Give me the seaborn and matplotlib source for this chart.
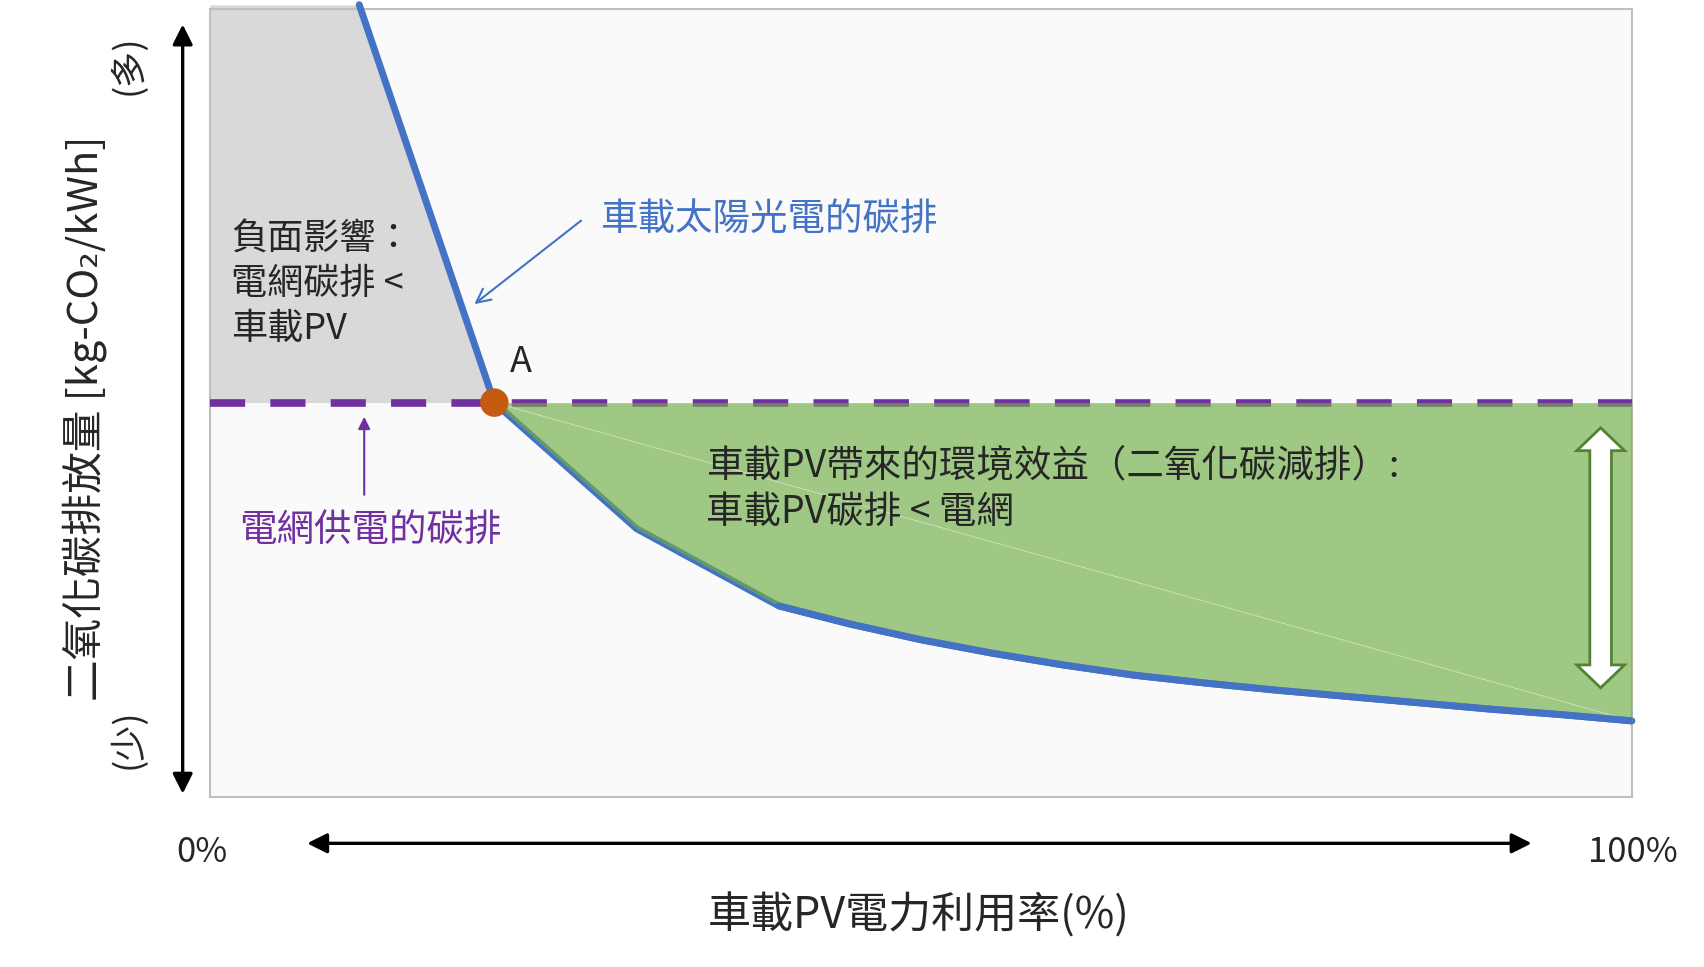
import numpy as np
import pandas as pd
import matplotlib.pyplot as plt
from matplotlib.patches import Polygon, FancyArrowPatch
import seaborn as sns

# PV utilisation (%) vs. CO2 emission of on-board PV (arbitrary units)
pv_util = [10.5, 20, 30, 40, 45, 50, 55, 60, 65, 70, 75, 80, 85, 90, 95, 100]
pv_co2 = [10.05, 5.0, 3.4, 2.42, 2.19, 1.99, 1.82, 1.67, 1.54, 1.44, 1.35, 1.27, 1.19, 1.11, 1.04, 0.96]
grid_co2 = 5.0
point_a = (20, 5.0)

x_labels = ["0%", "100%"]
x_title = "車載PV電力利用率(%)"
y_title = "二氧化碳排放量 [kg-CO\u2082/kWh]"

df = pd.DataFrame({"util": pv_util, "co2": pv_co2})

sns.set_style("white")
plt.rcParams["font.family"] = ["Noto Sans CJK TC", "DejaVu Sans"]

fig = plt.figure(figsize=(17.04, 9.67), dpi=100)
ax = fig.add_axes([0.1232, 0.1763, 0.8345, 0.8147])
ax.set_facecolor("#fafafa")
ax.set_xlim(0, 100)
ax.set_ylim(0, 10)
ax.set_xticks([])
ax.set_yticks([])
for s in ax.spines.values():
    s.set_color("#bfbfbf")
    s.set_linewidth(1.5)

# negative zone (grey)
gx = np.array([0, pv_util[0], point_a[0]])
gtop = np.interp(gx, pv_util, pv_co2)
gtop[0] = pv_co2[0]
ax.fill_between(gx, grid_co2, gtop, color="#d9d9d9", lw=0, zorder=1, clip_on=False)

# blue PV line
sns.lineplot(data=df, x="util", y="co2", ax=ax, color="#4472c4", lw=5,
             zorder=3, clip_on=False, legend=False)

# grid line (dashed purple)
ax.axhline(grid_co2, color="#7030a0", lw=5.5, dashes=(4.6, 3.3), zorder=4)

# benefit zone (green)
sub = df[df["util"] >= point_a[0]]
ax.fill_between(sub["util"], grid_co2, sub["co2"], color="#70ad47", alpha=0.65,
                lw=0, zorder=5)
ax.plot([sub["util"].iloc[0], sub["util"].iloc[-1]],
        [sub["co2"].iloc[0], sub["co2"].iloc[-1]],
        color="white", lw=0.6, alpha=0.5, zorder=5)
# flatter part of the curve is drawn over the fill
tail = df[df["util"] >= 40]
sns.lineplot(data=tail, x="util", y="co2", ax=ax, color="#4472c4", lw=5,
             zorder=5.5, legend=False)

# point A
sns.scatterplot(x=[point_a[0]], y=[point_a[1]], ax=ax, s=420, color="#c55a11",
                edgecolor="none", zorder=7, clip_on=False, legend=False)
ax.text(21.9, 5.52, "A", fontsize=26, ha="center", va="center", zorder=8)

# double arrow in green zone
def double_arrow(ax, x, y0, y1, body=0.76, head=1.68, hl=0.29):
    verts = [(x, y1), (x + head, y1 - hl), (x + body, y1 - hl), (x + body, y0 + hl),
             (x + head, y0 + hl), (x, y0), (x - head, y0 + hl), (x - body, y0 + hl),
             (x - body, y1 - hl), (x - head, y1 - hl)]
    ax.add_patch(Polygon(verts, closed=True, fc="white", ec="#548235", lw=2, zorder=6))

double_arrow(ax, 97.8, 1.38, 4.68)

# annotations
ax.text(1.5, 6.5, "負面影響：\n電網碳排 <\n車載PV", fontsize=26, ha="left",
        va="center", linespacing=1.3, zorder=8)

ax.text(27.4, 7.32, "車載太陽光電的碳排", fontsize=27, color="#4472c4",
        ha="left", va="center", zorder=8)
ax.annotate("", xy=(18.6, 6.25), xytext=(26.1, 7.31), zorder=8,
            arrowprops=dict(arrowstyle="->", color="#4472c4", lw=1.5,
                            mutation_scale=25, shrinkA=0, shrinkB=0))

ax.text(11.3, 3.38, "電網供電的碳排", fontsize=27, color="#7030a0",
        ha="center", va="center", zorder=8)
ax.annotate("", xy=(10.85, 4.82), xytext=(10.85, 3.83), zorder=8,
            arrowprops=dict(arrowstyle="-|>", color="#7030a0", lw=1.5,
                            mutation_scale=18, shrinkA=0, shrinkB=0))

ax.text(34.9, 3.9, "車載PV帶來的環境效益（二氧化碳減排）:\n車載PV碳排 < 電網",
        fontsize=27, ha="left", va="center", linespacing=1.25, zorder=8)

# outer axis arrows
fig.add_artist(FancyArrowPatch(
    (0.1072, 0.1763), (0.1072, 0.9776), transform=fig.transFigure,
    arrowstyle="<|-|>", mutation_scale=30, lw=2.4, color="black"))
fig.add_artist(FancyArrowPatch(
    (0.1786, 0.1279), (0.9005, 0.1279), transform=fig.transFigure,
    arrowstyle="<|-|>", mutation_scale=30, lw=2.4, color="black"))

fig.text(0.1187, 0.1189, x_labels[0], fontsize=25, ha="center", va="center")
fig.text(0.958, 0.1189, x_labels[1], fontsize=25, ha="center", va="center")
fig.text(0.539, 0.0527, x_title, fontsize=31, ha="center", va="center")
fig.text(0.0497, 0.5673, y_title, fontsize=30, ha="center", va="center", rotation=90)
fig.text(0.0752, 0.9326, "(多)", fontsize=26, ha="center", va="center", rotation=90)
fig.text(0.0752, 0.2358, "(少)", fontsize=26, ha="center", va="center", rotation=90)

fig.savefig("out.png", dpi=100, facecolor="white")
